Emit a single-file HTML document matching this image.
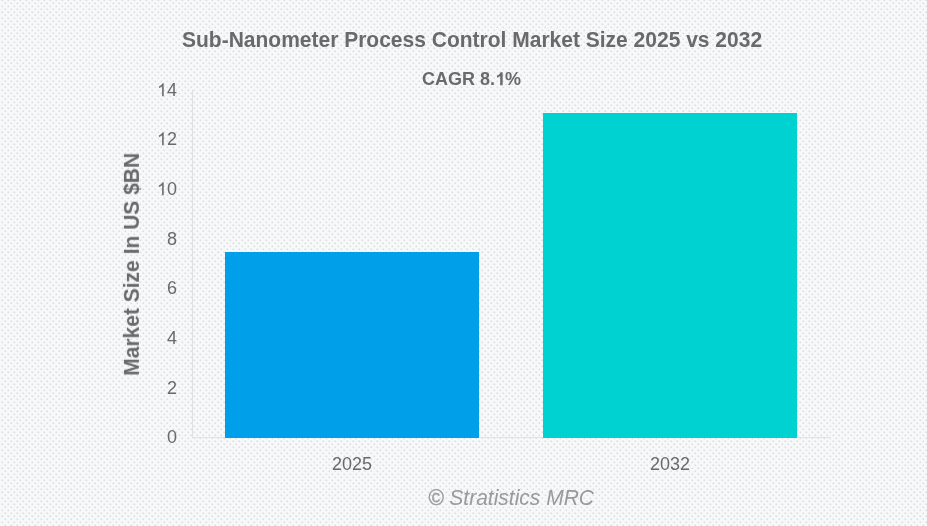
<!DOCTYPE html>
<html><head><meta charset="utf-8">
<style>
html,body{margin:0;padding:0;}
body{width:927px;height:526px;position:relative;overflow:hidden;background:#f7f8fa;font-family:"Liberation Sans",sans-serif;}
.bg{position:absolute;left:0;top:0;}
.t{position:absolute;white-space:nowrap;line-height:1;will-change:transform;color:#6a6a6a;}
.o{position:relative;color:transparent;}
.o svg{position:absolute;left:0;top:0;overflow:visible;fill:#6a6a6a;}
.y{position:absolute;left:137px;width:40px;text-align:right;font-size:18px;line-height:1;will-change:transform;color:#6a6a6a;}
</style></head><body>
<svg class="bg" width="927" height="526">
<defs><pattern id="p" width="6" height="6" patternUnits="userSpaceOnUse">
<rect x="1" y="5" width="1" height="1" fill="#f1f2f4"/>
<rect x="1" y="0" width="1" height="1" fill="#eaebed"/>
<rect x="2" y="5" width="1" height="1" fill="#eaebed"/>
<rect x="3" y="0" width="1" height="1" fill="#f4f5f7"/>
<rect x="2" y="1" width="1" height="1" fill="#f4f5f7"/>
<rect x="2" y="0" width="1" height="1" fill="#dcdcdc"/>
<rect x="4" y="2" width="1" height="1" fill="#f1f2f4"/>
<rect x="4" y="3" width="1" height="1" fill="#eaebed"/>
<rect x="5" y="2" width="1" height="1" fill="#eaebed"/>
<rect x="0" y="3" width="1" height="1" fill="#f4f5f7"/>
<rect x="5" y="4" width="1" height="1" fill="#f4f5f7"/>
<rect x="5" y="3" width="1" height="1" fill="#dcdcdc"/>
</pattern></defs>
<rect width="927" height="526" fill="url(#p)"/>
<rect x="192" y="90" width="1" height="348" fill="#e0e0e0"/>
<rect x="192" y="437" width="638" height="1" fill="#e2e2e2"/>
<rect x="225" y="252" width="254" height="186" fill="#009fea"/>
<rect x="543" y="113" width="254" height="325" fill="#00d1d1"/>
</svg>
<div class="t" id="title" style="left:182px;top:29px;font-size:21px;font-weight:bold;transform-origin:0 17.77px;transform:scaleY(1.07);">Sub-Nanometer Process Control Market Size 2025 vs 2032</div>
<div class="t" id="cagr" style="left:422px;top:70px;font-size:18px;font-weight:bold;">CAGR 8.<span class="o">1<svg width="0.5562em" height="1em" viewBox="0 -1854 1139 2048"><path transform="scale(1,-1)" d="M871 0H590V1059Q436 915 227 846V1101Q338 1137 467 1237Q596 1337 644 1472H871V0Z"/></svg></span>%</div>
<div class="y" style="top:81px;"><span class="o">1<svg width="0.5562em" height="1em" viewBox="0 -1854 1139 2048"><path transform="scale(1,-1)" d="M763 0H583V1147Q518 1085 412.5 1023Q307 961 223 930V1104Q374 1175 487 1276Q600 1377 647 1472H763V0Z"/></svg></span>4</div>
<div class="y" style="top:130px;"><span class="o">1<svg width="0.5562em" height="1em" viewBox="0 -1854 1139 2048"><path transform="scale(1,-1)" d="M763 0H583V1147Q518 1085 412.5 1023Q307 961 223 930V1104Q374 1175 487 1276Q600 1377 647 1472H763V0Z"/></svg></span>2</div>
<div class="y" style="top:180px;"><span class="o">1<svg width="0.5562em" height="1em" viewBox="0 -1854 1139 2048"><path transform="scale(1,-1)" d="M763 0H583V1147Q518 1085 412.5 1023Q307 961 223 930V1104Q374 1175 487 1276Q600 1377 647 1472H763V0Z"/></svg></span>0</div>
<div class="y" style="top:230px;">8</div>
<div class="y" style="top:279px;">6</div>
<div class="y" style="top:329px;">4</div>
<div class="y" style="top:379px;">2</div>
<div class="y" style="top:428px;">0</div>
<div class="t" style="left:332px;top:455px;font-size:18px;">2025</div>
<div class="t" style="left:650px;top:455px;font-size:18px;">2032</div>
<div class="t" id="ytitle" style="left:138.77px;top:357.73px;font-size:21px;font-weight:bold;transform-origin:0 17.77px;transform:rotate(-90deg) scaleY(1.07);">Market Size In US $BN</div>
<div class="t" id="foot" style="left:428px;top:487px;font-size:21px;font-style:italic;color:#9a9a9a;transform-origin:0 17.77px;transform:scaleY(1.07);"><span style="font-style:normal;position:relative;left:0.6px;top:0.2px;-webkit-text-stroke:0.35px #9a9a9a;">©</span> Stratistics MRC</div>
</body></html>
